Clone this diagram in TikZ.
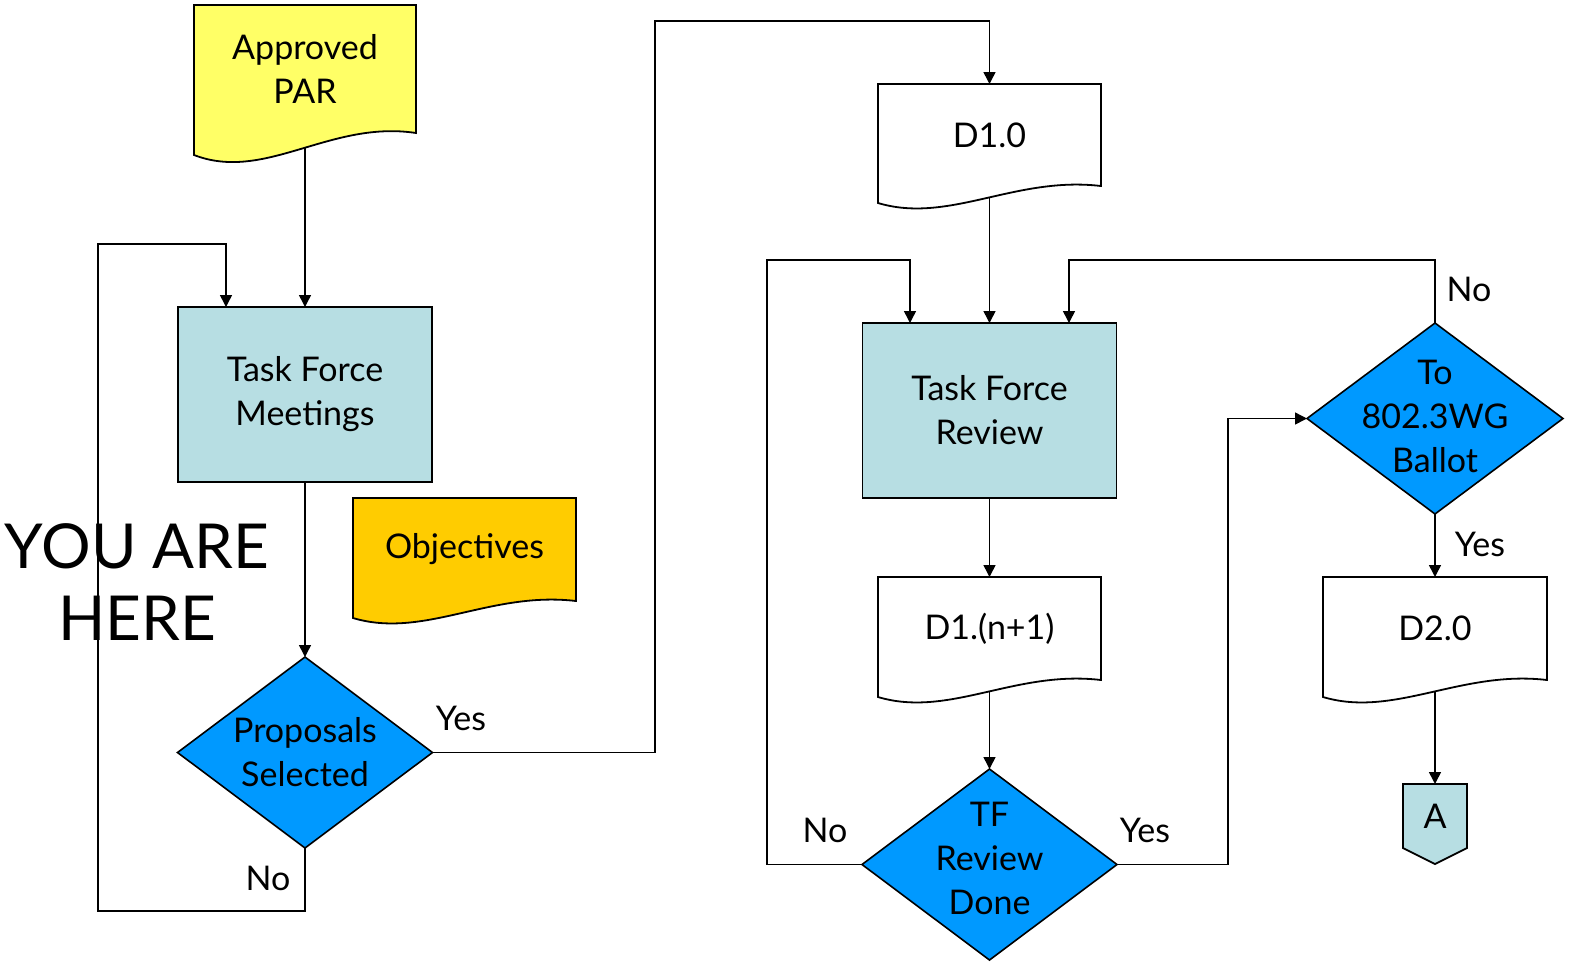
\documentclass[tikz,border=0pt]{standalone}
\usepackage{fontspec}
\setmainfont{Lato}
\usetikzlibrary{shapes.geometric,arrows.meta,calc}
\pgfdeclarelayer{bg}\pgfdeclarelayer{shp}\pgfsetlayers{bg,shp,main}
\definecolor{parY}{HTML}{FFFF66}
\definecolor{objO}{HTML}{FFCC00}
\definecolor{boxB}{HTML}{B7DEE3}
\definecolor{diaB}{HTML}{0099FF}
\tikzset{
  base/.style={font=\fontsize{17}{22}\selectfont, align=center, inner sep=0pt, outer sep=0pt},
  docn/.style={base},
  proc/.style={base, draw, line width=0.9pt, fill=boxB, minimum width=127pt, minimum height=87.5pt},
  dia/.style={diamond, draw, line width=0.8pt, fill=diaB, minimum width=127.5pt, minimum height=95.5pt, inner sep=0pt, outer sep=0pt},
  txt/.style={base},
  arr/.style={-{Triangle[length=6pt,width=6pt]}, line width=0.75pt},
  shapeline/.style={line width=0.9pt, draw=black},
}
\newcommand\docwave[3]{%
  \begin{pgfonlayer}{shp}
  \filldraw[shapeline, fill=#2] (#1.north west) -- (#1.north east) -- (#1.south east)
    .. controls +(-86,-#3*0.6) and +(71,#3*1.25) .. ($(#1.south west)+(0,#3)$) -- cycle;
  \end{pgfonlayer}}
\begin{document}
\begin{tikzpicture}[x=0.5pt,y=-0.5pt]
\useasboundingbox (0,0) rectangle (1576,966);
% documents
\node[docn, minimum width=111pt, minimum height=64pt] (par) at (305,69) {Approved\\PAR};
\docwave{par}{parY}{22}
\node[docn, minimum width=111.5pt, minimum height=51.5pt] (obj) at (464.5,549.5) {Objectives};
\docwave{obj}{objO}{17}
\node[docn, minimum width=111.5pt, minimum height=51pt] (d10) at (989.5,135) {D1.0};
\docwave{d10}{white}{17}
\node[docn, minimum width=111.5pt, minimum height=51.5pt] (dn) at (989.5,628.5) {D1.(n+1)};
\docwave{dn}{white}{17}
\node[docn, minimum width=112pt, minimum height=51.5pt] (d20) at (1435,628.5) {D2.0};
\docwave{d20}{white}{17}
% processes
\node[proc] (tfm) at (305,394.5) {Task Force\\Meetings};
\node[proc] (tfr) at (989.5,410.5) {Task Force\\Review};
% decisions
\node[dia] (psel) at (305,752.5) {};
\node[txt] (pselt) at (305,752) {Proposals\\Selected};
\node[dia] (tfrd) at (989.5,864.5) {};
\node[txt] (tfrdt) at (989.5,858) {TF\\Review\\Done};
\node[dia, minimum width=128pt] (ball) at (1435,418.5) {};
\node[txt] (ballt) at (1435,416) {To\\802.3WG\\Ballot};
% off-page connector
\node[base, minimum width=32pt, minimum height=32pt] (A) at (1435,816) {A};
\begin{pgfonlayer}{shp}
\filldraw[shapeline, fill=boxB] (A.north west) -- (A.north east) -- (A.south east) -- ($(A.south)+(0,16)$) -- (A.south west) -- cycle;
\end{pgfonlayer}
% you are here
\node[base, font=\fontsize{31}{36}\selectfont] (yah) at (137,582) {YOU ARE\\HERE};
% coordinates
\coordinate (noL) at (98,911);
\coordinate (noT) at (98,244);
\coordinate (yT) at (655,21);
\coordinate (n2) at (767,260);
\coordinate (y2) at (1228,418.5);
\coordinate (n3) at (1435,260);
% connectors
\begin{pgfonlayer}{bg}
\draw[arr] (par.south) -- (tfm.north);
\draw[arr] (tfm.south) -- (psel.north);
\draw[arr] (psel.south) |- (noL) -- (noT) -| ($(tfm.north)+(-79,0)$);
\draw[arr] (psel.east) -| (yT) -| (d10.north);
\draw[arr] (d10.south) -- (tfr.north);
\draw[arr] (tfr.south) -- (dn.north);
\draw[arr] (dn.south) -- (tfrd.north);
\draw[arr] (tfrd.west) -| (n2) -| ($(tfr.north)+(-79.5,0)$);
\draw[arr] (tfrd.east) -| (y2) -- (ball.west);
\draw[arr] (ball.north) -- (n3) -| ($(tfr.north)+(79.5,0)$);
\draw[arr] (ball.south) -- (d20.north);
\draw[arr] (d20.south) -- (A.north);
\end{pgfonlayer}
% labels
\node[txt] (l1) at (268,878) {No};
\node[txt] (l2) at (461,718) {Yes};
\node[txt] (l3) at (825,830) {No};
\node[txt] (l4) at (1145,830) {Yes};
\node[txt] (l5) at (1469,289) {No};
\node[txt] (l6) at (1480,544) {Yes};
\end{tikzpicture}
\end{document}
